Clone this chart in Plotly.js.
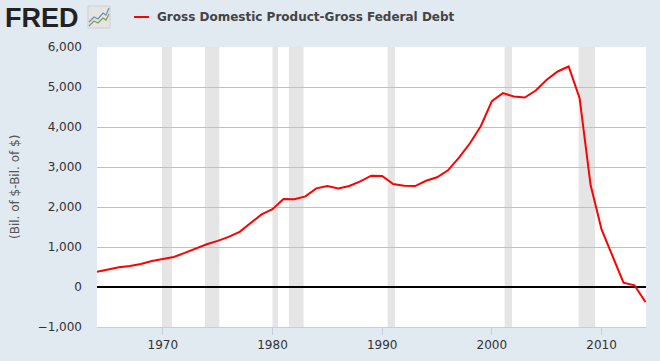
<!DOCTYPE html>
<html>
<head>
<meta charset="utf-8">
<script src="https://cdn.plot.ly/plotly-3.0.1.min.js"></script>
<style>html,body{margin:0;padding:0;background:#e1e9f1;}#chart{width:660px;height:361px;}</style>
</head>
<body>
<div id="chart"></div>
<script>
// ---- data ----
const years = [1964,1965,1966,1967,1968,1969,1970,1971,1972,1973,1974,1975,1976,1977,1978,1979,
  1980,1981,1982,1983,1984,1985,1986,1987,1988,1989,1990,1991,1992,1993,1994,1995,1996,1997,1998,1999,
  2000,2001,2002,2003,2004,2005,2006,2007,2008,2009,2010,2011,2012,2013,2014];
const gdpMinusDebt = [380,436,494,526,576,652,694,752,852,970,1070,1153,1253,1378,1589,1814,
  1947,2198,2195,2265,2466,2524,2466,2524,2641,2782,2774,2574,2531,2524,2656,2742,2917,3233,3594,4027,
  4646,4847,4762,4737,4912,5180,5388,5513,4721,2549,1438,769,110,43,-376];
const recessionStart = ['1969-12-01','1973-11-01','1980-01-01','1981-07-01','1990-07-01','2001-03-01','2007-12-01'];
const recessionEnd   = ['1970-11-01','1975-03-01','1980-07-01','1982-11-01','1991-03-01','2001-11-01','2009-06-01'];
const yTicks = [-1000,0,1000,2000,3000,4000,5000,6000];
const xTickYears = [1970,1980,1990,2000,2010];
const seriesName = 'Gross Domestic Product-Gross Federal Debt';
const yLabel = '(Bil. of $-Bil. of $)';

// ---- layout helpers ----
const W = 660, H = 361, L = 97, R = 14, T = 47, B = 34;
const pw = W - L - R, ph = H - T - B;
const px = x => (x - L) / pw;
const py = y => (H - B - y) / ph;

const dates = years.map(y => y + '-01-01');

const trace = {
  x: dates, y: gdpMinusDebt, type: 'scatter', mode: 'lines',
  name: seriesName, line: {color: '#ff0000', width: 2}, showlegend: false,
  hoverinfo: 'skip'
};

const shapes = recessionStart.map((s, i) => ({
  type: 'rect', xref: 'x', yref: 'paper', x0: s, x1: recessionEnd[i], y0: 0, y1: 1,
  fillcolor: '#e5e5e5', line: {width: 0}, layer: 'below'
}));
// legend swatch
shapes.push({type: 'line', xref: 'paper', yref: 'paper', x0: px(134), x1: px(149), y0: py(17), y1: py(17),
  line: {color: '#ff0000', width: 2}});
// FRED icon
shapes.push({type: 'rect', xref: 'paper', yref: 'paper', x0: px(88), x1: px(110), y0: py(28), y1: py(6),
  fillcolor: '#e4e4e4', line: {color: '#d0d0d0', width: 1}});
shapes.push({type: 'path', xref: 'paper', yref: 'paper',
  path: `M ${px(89)} ${py(22)} L ${px(94)} ${py(17)} L ${px(98)} ${py(19)} L ${px(103)} ${py(13)} L ${px(106)} ${py(15)} L ${px(109)} ${py(8)}`,
  line: {color: '#6d8fb8', width: 1.2}});
shapes.push({type: 'path', xref: 'paper', yref: 'paper',
  path: `M ${px(89)} ${py(26)} L ${px(94)} ${py(21)} L ${px(98)} ${py(23)} L ${px(103)} ${py(18)} L ${px(106)} ${py(20)} L ${px(109)} ${py(14)}`,
  line: {color: '#7aa05a', width: 1.2}});

const annotations = [
  {xref: 'paper', yref: 'paper', x: px(155), y: py(17), xanchor: 'left', yanchor: 'middle', showarrow: false,
   text: '<b>' + seriesName + '</b>', font: {family: 'DejaVu Sans, Verdana, sans-serif', size: 12, color: '#444444'}},
  {xref: 'paper', yref: 'paper', x: px(3), y: py(18), xanchor: 'left', yanchor: 'middle', showarrow: false,
   text: '<b>FRED</b>', font: {family: 'Liberation Sans, Arial, sans-serif', size: 27, color: '#222222'}},
  {xref: 'paper', yref: 'paper', x: px(15), y: 0.5, xanchor: 'center', yanchor: 'middle', showarrow: false,
   textangle: -90, text: yLabel, font: {family: 'DejaVu Sans, Verdana, sans-serif', size: 12, color: '#555555'}}
];

const layout = {
  width: W, height: H,
  margin: {l: L, r: R, t: T, b: B, pad: 0},
  paper_bgcolor: '#e1e9f1', plot_bgcolor: '#ffffff',
  font: {family: 'DejaVu Sans, Verdana, sans-serif', size: 12, color: '#333333'},
  xaxis: {
    type: 'date', range: ['1964-01-01', '2014-01-20'],
    tickvals: xTickYears.map(y => y + '-01-01'), ticktext: xTickYears.map(String),
    showgrid: false, showline: true, linecolor: '#c0d0e0', linewidth: 1,
    ticks: 'outside', ticklen: 7, tickcolor: '#c0d0e0', tickwidth: 1,
    tickfont: {size: 12, color: '#333333'}, zeroline: false, fixedrange: true
  },
  yaxis: {
    range: [-1000, 6000], tickvals: yTicks, tickformat: ',d',
    showgrid: true, gridcolor: '#c0c0c0', gridwidth: 1,
    zeroline: true, zerolinecolor: '#000000', zerolinewidth: 2,
    showline: false, ticks: '', ticklabelstandoff: 14,
    tickfont: {size: 12, color: '#333333'}, fixedrange: true
  },
  shapes: shapes, annotations: annotations, showlegend: false
};

Plotly.newPlot('chart', [trace], layout, {displayModeBar: false, staticPlot: true});
</script>
</body>
</html>
